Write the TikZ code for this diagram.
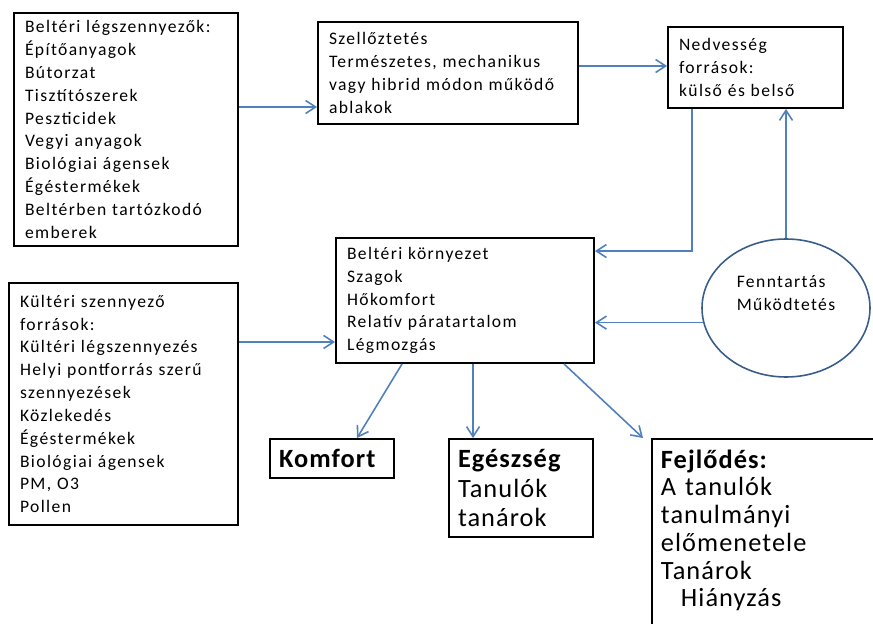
\documentclass[tikz,border=0pt]{standalone}
\usepackage{fontspec}
\setmainfont{Carlito}[LetterSpace=4]
\newfontfamily\smallfont{Carlito}[LetterSpace=8]
\usepackage{tikz}
\usetikzlibrary{positioning,arrows.meta,shapes.geometric,calc}
\definecolor{arrblue}{HTML}{4F81BD}
\definecolor{ovalblue}{HTML}{385D8A}

\begin{document}
\begin{tikzpicture}[
  font=\smallfont\fontsize{10}{13}\selectfont,
  box/.style={draw=black,line width=1.1pt,fill=white,align=left,
              inner xsep=0.22cm,inner ysep=3pt},
  bigbox/.style={box,font=\normalfont\fontsize{15}{17}\selectfont,inner xsep=0.18cm},
  oval/.style={ellipse,draw=ovalblue,line width=0.9pt,fill=white,
               minimum width=3.36cm,minimum height=2.76cm,align=left},
  arr/.style={-{Straight Barb[length=2mm,width=2.6mm]},draw=arrblue,line width=0.9pt},
]
\path[use as bounding box,fill=white] (0,0) rectangle (17.46,12.46);

% LEFT: pollutant sources
\node[box,text width=4.04cm,minimum height=4.66cm] (indoor) at (2.52,9.87)
  {Beltéri légszennyezők:\\Építőanyagok\\Bútorzat\\Tisztítószerek\\Peszticidek\\Vegyi anyagok\\Biológiai ágensek\\Égéstermékek\\Beltérben tartózkodó\\emberek};
\node[box,text width=4.14cm,minimum height=4.84cm] (outdoor) at (2.47,4.38)
  {Kültéri szennyező\\források:\\Kültéri légszennyezés\\Helyi pontforrás szerű\\szennyezések\\Közlekedés\\Égéstermékek\\Biológiai ágensek\\PM, O3\\Pollen};

% TOP: ventilation and moisture
\node[box,text width=4.76cm,minimum height=2.04cm] (vent) at (8.96,11.00)
  {Szellőztetés\\Természetes, mechanikus\\vagy hibrid módon működő\\ablakok};
\node[box,text width=3.06cm,minimum height=1.62cm] (moist) at (15.11,11.11)
  {Nedvesség\\források:\\külső és belső};

% MIDDLE: indoor environment + maintenance
\node[box,text width=4.72cm,minimum height=2.5cm] (env) at (9.30,6.45)
  {Beltéri környezet\\Szagok\\Hőkomfort\\Relatív páratartalom\\Légmozgás};
\node[oval,text depth=0.6cm] (maint) at (15.72,6.30) {Fenntartás\\Működtetés};

% BOTTOM: outcomes
\node[bigbox,text width=2.12cm,minimum height=0.78cm] (comfort) at (6.64,3.29) {\textbf{Komfort}};
\node[bigbox,text width=2.52cm,minimum height=1.96cm] (health) at (10.42,2.70)
  {\textbf{Egészség}\\Tanulók\\tanárok};
\node[bigbox,anchor=north west,text width=4.44cm,text depth=3.6cm,inner ysep=6pt,
      font=\normalfont\fontsize{15}{15.8}\selectfont] (dev) at (13.02,3.70)
  {\textbf{Fejlődés:}\\A tanulók\\tanulmányi\\előmenetele\\Tanárok\\\hspace*{0.4cm}Hiányzás};

% sources -> ventilation / environment
\coordinate (a1) at ([yshift=0.45cm]indoor.east);
\draw[arr] (a1) -- (a1 -| vent.west);
\coordinate (a2) at ([yshift=0.44cm]env.south west);
\draw[arr] (a2 -| outdoor.east) -- (a2);

% ventilation -> moisture -> environment
\coordinate (a4) at ([yshift=0.03cm]moist.west);
\draw[arr] (a4 -| vent.east) -- (a4);
\draw[arr] ([xshift=0.5cm]moist.south west) |- ([yshift=-0.28cm]env.north east);

% maintenance loop
\draw[arr] (maint.north) -- (maint.north |- moist.south);
\draw[arr] (maint.190) -- (maint.190 -| env.east);

% environment -> outcomes
\draw[arr] ([xshift=1.34cm]env.south west) -- ([xshift=0.5cm]comfort.north);
\coordinate (a3) at ([xshift=2.76cm]env.south west);
\draw[arr] (a3) -- (a3 |- health.north);
\draw[arr] ([xshift=4.58cm]env.south west) -- ([xshift=-0.16cm]dev.north west);
\end{tikzpicture}
\end{document}
